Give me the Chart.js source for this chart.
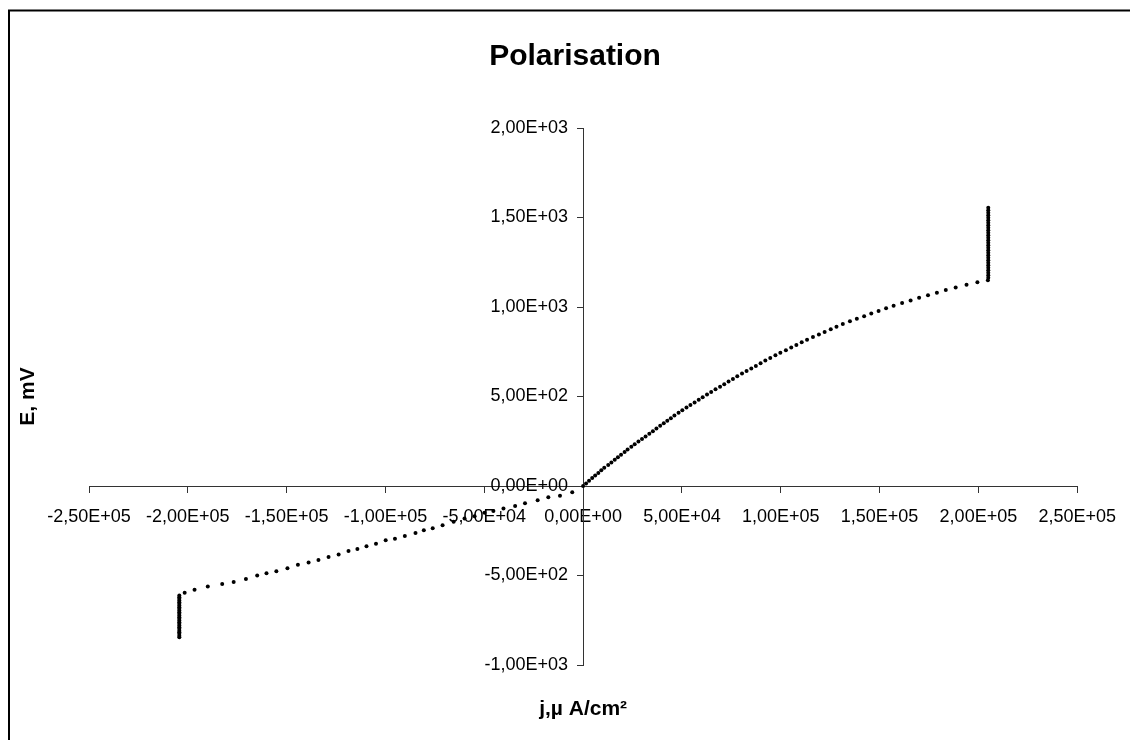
<!DOCTYPE html>
<html>
<head>
<meta charset="utf-8">
<script src="https://cdn.jsdelivr.net/npm/chart.js@4.4.1/dist/chart.umd.min.js"></script>
<style>
  body { margin: 0; background: #fff; }
  #wrap { width: 1130px; height: 740px; }
</style>
</head>
<body>
<div id="wrap"><canvas id="polChart" width="1130" height="740"></canvas></div>
<script>
// anodic branch (j in µA/cm², E in mV)
const anodicJ = [0, 1500, 3000, 4600, 6100, 7700, 9200, 10700, 12700, 14300, 16000, 17600, 19200, 21000,
  22500, 24400, 26100, 28000, 29800, 31600, 33500, 35300, 37100, 39000, 40800, 42600, 44400, 46200,
  48300, 50200, 52300, 54300, 56400, 58500, 60500, 62700, 64800, 67000, 69300, 71400, 73600, 75800,
  78000, 80400, 82700, 85100, 87400, 89800, 92200, 94700, 97300, 99800, 102600, 105300, 107900, 110600,
  113300, 116300, 119300, 122200, 125300, 128200, 131400, 135000, 138500, 142200, 145800, 149500,
  153300, 157100, 161400, 165700, 170000, 174500, 179000, 183500, 188500, 194000, 199500, 204800];
const anodicE = [0, 14, 29, 44, 58, 73, 88, 102, 117, 131, 146, 160, 175, 190, 204, 219, 233, 248, 263,
  277, 292, 306, 321, 336, 350, 365, 379, 394, 409, 423, 438, 452, 467, 482, 496, 511, 525, 540, 555,
  569, 584, 598, 613, 628, 642, 657, 671, 686, 701, 715, 730, 744, 759, 774, 788, 803, 817, 832, 847,
  861, 876, 890, 905, 920, 934, 949, 963, 978, 993, 1007, 1022, 1036, 1051, 1066, 1080, 1095, 1109,
  1124, 1138, 1150];

// anodic limiting current, E keeps rising
const anodicLimitJ = 205000;
const anodicLimitE = [1163, 1177, 1191, 1205, 1219, 1233, 1247, 1261, 1275, 1289, 1303, 1317, 1331,
  1345, 1359, 1373, 1387, 1401, 1415, 1429, 1443, 1457, 1471, 1485, 1499, 1513, 1527, 1541, 1555];

// cathodic branch
const cathodicJ = [-5500, -11700, -17600, -23000, -29400, -34400, -40300, -45400, -49900, -54900,
  -60000, -65500, -71100, -76100, -80600, -84800, -90200, -95200, -99900, -104800, -109600, -114200,
  -118700, -123700, -128800, -133900, -138900, -144300, -149600, -155200, -160200, -164900, -170600,
  -176800, -182600, -189900, -196600, -201600, -204300];
const cathodicE = [-35, -54, -63, -79, -97, -112, -125, -139, -150, -169, -181, -200, -219, -236, -247,
  -262, -279, -294, -303, -322, -337, -352, -363, -382, -397, -414, -427, -440, -459, -476, -487, -500,
  -519, -536, -547, -562, -580, -596, -612];

const cathodicLimitJ = -204300;
const cathodicLimitE = [-621, -630, -640, -649, -658, -668, -677, -686, -696, -705, -714, -724, -733,
  -742, -752, -761, -770, -780, -789, -798, -808, -817, -826, -836, -845];

const xTicks = { min: -250000, max: 250000, step: 50000 };
const yTicks = { min: -1000, max: 2000, step: 500 };

const points = [];
anodicJ.forEach((j, i) => points.push({ x: j, y: anodicE[i] }));
anodicLimitE.forEach(e => points.push({ x: anodicLimitJ, y: e }));
cathodicJ.forEach((j, i) => points.push({ x: j, y: cathodicE[i] }));
cathodicLimitE.forEach(e => points.push({ x: cathodicLimitJ, y: e }));

// Excel style labels: 2,00E+03
function sciLabel(v) {
  const parts = Number(v).toExponential(2).split('e');
  const ex = parseInt(parts[1], 10);
  return parts[0].replace('.', ',') + 'E' + (ex < 0 ? '-' : '+') + String(Math.abs(ex)).padStart(2, '0');
}

const FONT = "'Liberation Sans', Arial, sans-serif";

const textPlugin = {
  id: 'textPlugin',
  beforeDraw(chart) {
    const ctx = chart.ctx;
    ctx.save();
    ctx.fillStyle = '#fff';
    ctx.fillRect(0, 0, chart.width, chart.height);
    ctx.strokeStyle = '#000';
    ctx.lineWidth = 2;
    ctx.strokeRect(9, 10.5, 1200, 800);
    ctx.restore();
  },
  afterDraw(chart) {
    const ctx = chart.ctx;
    const area = chart.chartArea;
    ctx.save();
    ctx.fillStyle = '#000';
    ctx.textAlign = 'center';
    ctx.textBaseline = 'middle';
    ctx.font = 'bold 30px ' + FONT;
    ctx.fillText('Polarisation', 575, 57);
    ctx.font = 'bold 21px ' + FONT;
    ctx.fillText('j,µ A/cm²', chart.scales.x.getPixelForValue(0), 709);
    ctx.translate(28, (area.top + area.bottom) / 2);
    ctx.rotate(-Math.PI / 2);
    ctx.fillText('E, mV', 0, 0);
    ctx.restore();
  }
};

new Chart(document.getElementById('polChart').getContext('2d'), {
  type: 'scatter',
  data: {
    datasets: [{
      label: 'E(j)',
      data: points,
      backgroundColor: '#000',
      borderColor: '#000',
      borderWidth: 0,
      pointRadius: 2,
      pointHoverRadius: 2
    }]
  },
  options: {
    responsive: false,
    animation: false,
    layout: { padding: { left: 89, right: 52, top: 128, bottom: 75 } },
    plugins: {
      legend: { display: false },
      tooltip: { enabled: false }
    },
    scales: {
      x: {
        type: 'linear',
        position: { y: 0 },
        min: xTicks.min,
        max: xTicks.max,
        grid: { drawOnChartArea: false, drawTicks: true, tickLength: 6, color: '#333' },
        border: { display: true, color: '#333', width: 1 },
        ticks: {
          stepSize: xTicks.step,
          maxRotation: 0,
          autoSkip: false,
          padding: 14,
          color: '#000',
          font: { family: FONT, size: 18 },
          callback: v => sciLabel(v)
        }
      },
      y: {
        type: 'linear',
        position: { x: 0 },
        min: yTicks.min,
        max: yTicks.max,
        grid: { drawOnChartArea: false, drawTicks: true, tickLength: 6, color: '#333' },
        border: { display: true, color: '#333', width: 1 },
        ticks: {
          stepSize: yTicks.step,
          autoSkip: false,
          color: '#000',
          font: { family: FONT, size: 18 },
          // trailing spaces keep the right aligned labels clear of the axis
          callback: v => sciLabel(v) + '   '
        }
      }
    }
  },
  plugins: [textPlugin]
});
</script>
</body>
</html>
